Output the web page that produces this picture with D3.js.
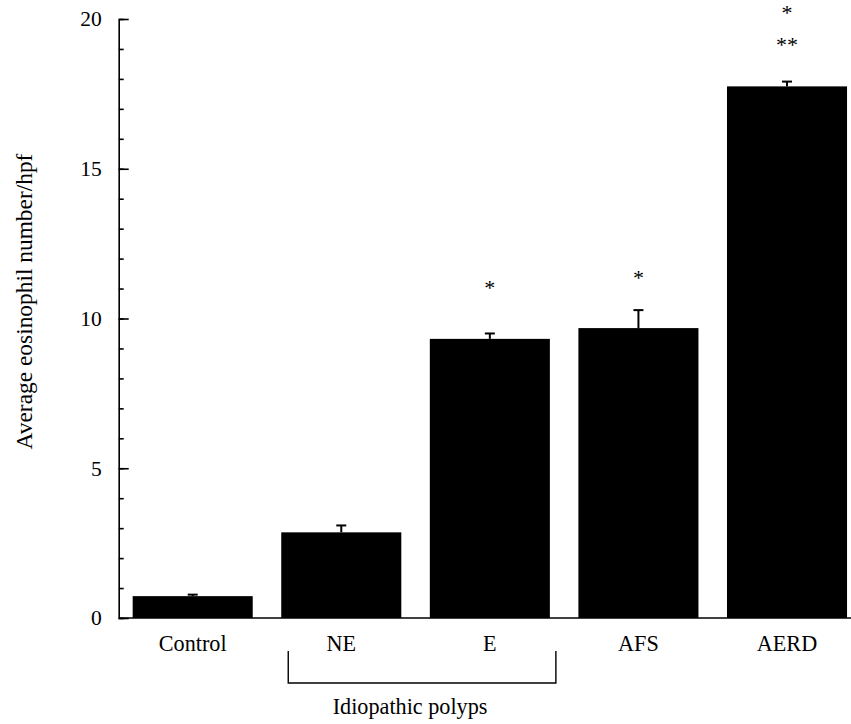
<!DOCTYPE html>
<html>
<head>
<meta charset="utf-8">
<script src="https://cdn.jsdelivr.net/npm/d3@7"></script>
<style>
  body { margin: 0; background: #fff; }
  svg text { font-family: "Liberation Serif", "Times New Roman", Tinos, "Nimbus Roman", "DejaVu Serif", serif; }
</style>
</head>
<body>
<svg id="chart" width="851" height="724"></svg>
<script>
// data
const groups = ["Control", "NE", "E", "AFS", "AERD"];
const means = [0.73, 2.86, 9.32, 9.68, 17.75];
const errors = [0.05, 0.23, 0.18, 0.6, 0.16];
// significance marks: [group, text, y value]
const marks = [
  ["E", "*", 11.04],
  ["AFS", "*", 11.4],
  ["AERD", "**", 19.18],
  ["AERD", "*", 20.25]
];
const bracketGroups = ["NE", "E"];
const bracketLabel = "Idiopathic polyps";
const yLabel = "Average eosinophil number/hpf";
const majorTicks = [0, 5, 10, 15, 20];

const svg = d3.select("#chart");
const margin = { left: 118.7, top: 19, bottom: 106 };
const H = 724;
const y = d3.scaleLinear([0, 20], [H - margin.bottom, margin.top]);
const x = d3.scaleBand(groups, [margin.left, 861])
  .paddingInner(0.192)
  .paddingOuter(0.094);

const data = groups.map((g, i) => ({ g, v: means[i], e: errors[i] }));

// bars
svg.append("g")
  .selectAll("rect")
  .data(data)
  .join("rect")
  .attr("x", (d) => x(d.g))
  .attr("width", x.bandwidth())
  .attr("y", (d) => y(d.v))
  .attr("height", (d) => y(0) - y(d.v))
  .attr("fill", "#000");

// error bars (upper only)
const eb = svg.append("g").attr("stroke", "#000").attr("stroke-width", 2);
eb.selectAll("line.v")
  .data(data)
  .join("line")
  .attr("class", "v")
  .attr("x1", (d) => x(d.g) + x.bandwidth() / 2)
  .attr("x2", (d) => x(d.g) + x.bandwidth() / 2)
  .attr("y1", (d) => y(d.v))
  .attr("y2", (d) => y(d.v + d.e));
eb.selectAll("line.c")
  .data(data)
  .join("line")
  .attr("class", "c")
  .attr("x1", (d) => x(d.g) + x.bandwidth() / 2 - 5)
  .attr("x2", (d) => x(d.g) + x.bandwidth() / 2 + 5)
  .attr("y1", (d) => y(d.v + d.e))
  .attr("y2", (d) => y(d.v + d.e));

// y axis: major ticks with labels, minor ticks every unit, all pointing inward
const yAxis = svg.append("g")
  .attr("transform", `translate(${margin.left},0)`)
  .call(d3.axisLeft(y).tickValues(majorTicks).tickSizeInner(-10).tickSizeOuter(0).tickPadding(17));
yAxis.attr("font-family", null);
yAxis.selectAll("text").attr("font-size", 21.5).attr("fill", "#000");
yAxis.select(".domain").attr("stroke-width", 1.6);
yAxis.selectAll(".tick line").attr("stroke-width", 1.6);

svg.append("g")
  .attr("transform", `translate(${margin.left},0)`)
  .call(d3.axisLeft(y).tickValues(d3.range(0, 21)).tickSizeInner(-5).tickSizeOuter(0).tickFormat(""))
  .call((g) => g.select(".domain").remove())
  .selectAll(".tick line").attr("stroke-width", 1.6);

// x baseline
svg.append("line")
  .attr("x1", margin.left).attr("x2", 851)
  .attr("y1", y(0)).attr("y2", y(0))
  .attr("stroke", "#000").attr("stroke-width", 1.6);

// x category labels
svg.append("g")
  .selectAll("text")
  .data(groups)
  .join("text")
  .attr("x", (d) => x(d) + x.bandwidth() / 2)
  .attr("y", y(0) + 32.5)
  .attr("text-anchor", "middle")
  .attr("font-size", 22.2)
  .text((d) => d);

// bracket under NE and E
const bx0 = x(bracketGroups[0]) + 7;
const bx1 = x(bracketGroups[1]) + x.bandwidth() + 6;
const by0 = y(0) + 33;
const by1 = y(0) + 65;
svg.append("path")
  .attr("d", `M${bx0},${by0}V${by1}H${bx1}V${by0}`)
  .attr("fill", "none")
  .attr("stroke", "#000")
  .attr("stroke-width", 1.4);
svg.append("text")
  .attr("x", (bx0 + bx1) / 2 - 12)
  .attr("y", y(0) + 96)
  .attr("text-anchor", "middle")
  .attr("font-size", 22.2)
  .text(bracketLabel);

// significance asterisks
svg.append("g")
  .selectAll("text")
  .data(marks)
  .join("text")
  .attr("x", (d) => x(d[0]) + x.bandwidth() / 2)
  .attr("y", (d) => y(d[2]) + 8)
  .attr("text-anchor", "middle")
  .attr("font-size", 22)
  .text((d) => d[1]);

// y axis title (sits a little above the axis midpoint in the original)
svg.append("text")
  .attr("transform", `translate(32,${(y(0) + y(20)) / 2 - 17}) rotate(-90)`)
  .attr("text-anchor", "middle")
  .attr("font-size", 23.4)
  .text(yLabel);
</script>
</body>
</html>
